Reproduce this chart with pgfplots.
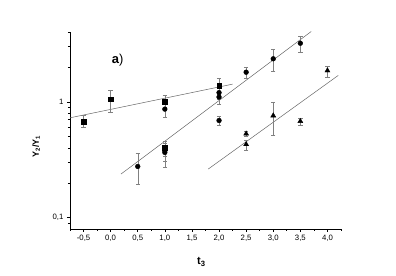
\documentclass[border=0pt]{standalone}
\usepackage{pgfplots}
\pgfplotsset{compat=1.18}
\usepackage{fontspec}
\setmainfont{Liberation Sans}
\begin{document}
\begin{tikzpicture}
\path[use as bounding box] (0,0) rectangle (396bp,276bp);
\begin{axis}[
  at={(70bp,47bp)}, anchor=south west,
  scale only axis, width=271bp, height=197bp,
  ymode=log,
  xmin=-0.75, xmax=4.25, ymin=0.08, ymax=4,
  axis x line=bottom, axis y line=left,
  axis line style={-, line width=0.8pt},
  tick align=outside,
  major tick length=3bp, minor tick length=2bp,
  tick style={black, line width=0.6pt},
  xtick={-0.5,0,0.5,1,1.5,2,2.5,3,3.5,4},
  xticklabels={{-0,5},{0,0},{0,5},{1,0},{1,5},{2,0},{2,5},{3,0},{3,5},{4,0}},
  minor xtick={-0.75,-0.25,0.25,0.75,1.25,1.75,2.25,2.75,3.25,3.75,4.25},
  ytick={0.1,1},
  yticklabels={{0,1},{1}},
  minor ytick={0.09,0.2,0.3,0.4,0.5,0.6,0.7,0.8,0.9,2,3,4},
  tick label style={font=\fontsize{7.8}{9}\selectfont},
  xlabel={\textbf{t}$_{\mathbf{3}}$},
  xlabel style={font=\fontsize{11}{12}\selectfont, at={(axis description cs:0.485,0)}, anchor=center, yshift=-33bp},
  ylabel={\textbf{Y}$_{\mathbf{2}}$\textbf{/Y}$_{\mathbf{1}}$},
  ylabel style={font=\fontsize{9}{11}\selectfont, at={(axis description cs:-0.125,0.42)}, anchor=center, rotate=0},
  clip=false,
]
% fit lines
\addplot[gray!80!black, line width=0.5pt] coordinates {(-0.75,0.728) (2.25,1.42)};
\addplot[gray!80!black, line width=0.5pt] coordinates {(0.19,0.238) (3.70,4.04)};
\addplot[gray!80!black, line width=0.5pt] coordinates {(1.80,0.263) (4.20,1.69)};
% squares
\addplot[only marks, mark=square*, mark size=2.3bp, black,
  error bars/.cd, y dir=both, y explicit,
  error bar style={gray, line width=0.5pt},
  error mark options={rotate=90, gray, mark size=2.2bp, line width=0.5pt}]
  coordinates {
  (-0.5,0.67) += (0,0.09) -= (0,0.07)
  (0.0,1.05) += (0,0.22) -= (0,0.23)
  (1.0,1.00) += (0,0.13) -= (0,0.12)
  (1.0,0.40) += (0,0.06) -= (0,0.06)
  (2.0,1.37) += (0,0.24) -= (0,0.2)
  };
% circles
\addplot[only marks, mark=*, mark size=2.4bp, black,
  error bars/.cd, y dir=both, y explicit,
  error bar style={gray, line width=0.5pt},
  error mark options={rotate=90, gray, mark size=2.2bp, line width=0.5pt}]
  coordinates {
  (0.5,0.277) += (0,0.083) -= (0,0.081)
  (1.0,0.865) += (0,0.1) -= (0,0.125)
  (1.0,0.38) += (0,0.06) -= (0,0.07)
  (1.0,0.366) += (0,0.06) -= (0,0.096)
  (2.0,1.2) += (0,0.14) -= (0,0.14)
  (2.0,1.1) += (0,0.14) -= (0,0.14)
  (2.0,0.69) += (0,0.06) -= (0,0.06)
  (2.5,1.80) += (0,0.2) -= (0,0.2)
  (3.0,2.35) += (0,0.49) -= (0,0.5)
  (3.5,3.2) += (0,0.46) -= (0,0.52)
  };
% triangles
\addplot[only marks, mark=triangle*, mark size=2.9bp, black,
  error bars/.cd, y dir=both, y explicit,
  error bar style={gray, line width=0.5pt},
  error mark options={rotate=90, gray, mark size=2.2bp, line width=0.5pt}]
  coordinates {
  (2.5,0.53) += (0,0.03) -= (0,0.03)
  (2.5,0.43) += (0,0.035) -= (0,0.045)
  (3.0,0.76) += (0,0.23) -= (0,0.25)
  (3.5,0.68) += (0,0.045) -= (0,0.05)
  (4.0,1.86) += (0,0.16) -= (0,0.23)
  };
\node[font=\fontsize{13}{14}\selectfont] at (axis cs:0.13,2.3) {\textbf{a})};
\end{axis}
\end{tikzpicture}
\end{document}
